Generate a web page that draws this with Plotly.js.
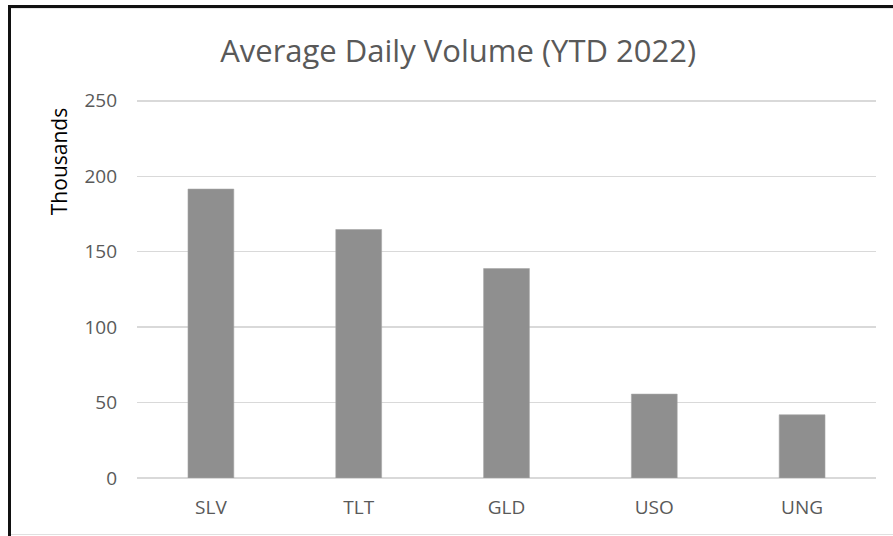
<!DOCTYPE html>
<html>
<head>
<meta charset="utf-8">
<script src="https://cdn.plot.ly/plotly-3.0.1.min.js"></script>
<style>
  html, body { margin: 0; padding: 0; background: #fff; }
  #wrap { position: relative; width: 893px; height: 536px; overflow: hidden; }
  #chart { position: absolute; left: 0; top: 0; width: 893px; height: 536px; }
  .b { position: absolute; pointer-events: none; }
</style>
</head>
<body>
<div id="wrap">
  <div id="chart"></div>
  <div class="b" style="left:8px; top:5px; width:900px; height:3px; background:#111;"></div>
  <div class="b" style="left:11px; top:8px; width:900px; height:1px; background:#e6e6e6;"></div>
  <div class="b" style="left:8px; top:5px; width:3px; height:540px; background:#111;"></div>
  <div class="b" style="left:11px; top:534px; width:900px; height:1px; background:#e0e0e0;"></div>
</div>
<script>
const categories = ["SLV", "TLT", "GLD", "USO", "UNG"];
const volumes = [191.5, 164.7, 138.8, 55.6, 41.9];
const yTicks = [0, 50, 100, 150, 200, 250];

const textColor = "#595959";
const fontFam = "'Open Sans', 'Noto Sans', sans-serif";

Plotly.newPlot("chart", [{
  type: "bar",
  x: categories,
  y: volumes,
  marker: { color: "#8f8f8f", line: { color: "#a6a6a6", width: 0.6 } },
  hoverinfo: "x+y"
}], {
  width: 893, height: 536,
  margin: { l: 137, r: 17, t: 99, b: 58 },
  paper_bgcolor: "#ffffff",
  plot_bgcolor: "#ffffff",
  bargap: 0.69,
  showlegend: false,
  title: {
    text: "Average Daily Volume (YTD 2022)",
    font: { family: fontFam, size: 31, color: textColor },
    xref: "container", x: 0.513, xanchor: "center",
    yref: "container", y: 0.905, yanchor: "middle"
  },
  xaxis: {
    type: "category",
    showgrid: false,
    showline: false,
    zeroline: false,
    ticks: "",
    ticklabelstandoff: 16,
    tickfont: { family: fontFam, size: 19, color: textColor }
  },
  yaxis: {
    range: [0, 251.2],
    tickvals: yTicks,
    ticktext: yTicks.map(String),
    showgrid: true,
    gridcolor: "#d9d9d9",
    gridwidth: 1.5,
    zeroline: true,
    zerolinecolor: "#d9d9d9",
    zerolinewidth: 1.5,
    showline: false,
    ticks: "",
    ticklabelstandoff: 19,
    tickfont: { family: fontFam, size: 19, color: textColor }
  },
  annotations: [{
    text: "Thousands",
    textangle: -90,
    font: { family: fontFam, size: 21, color: "#000000" },
    xref: "paper", yref: "paper",
    x: -0.106, y: 0.835,
    xanchor: "center", yanchor: "middle",
    showarrow: false
  }]
}, { displayModeBar: false, staticPlot: true });
</script>
</body>
</html>
